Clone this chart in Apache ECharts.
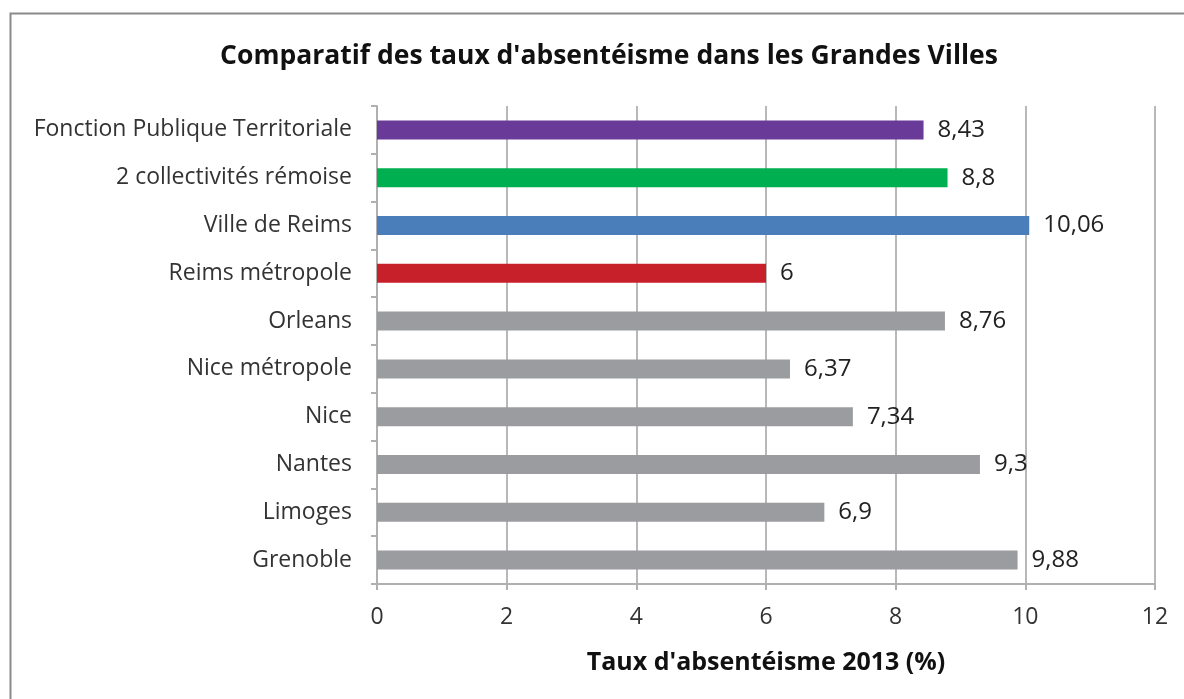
<!DOCTYPE html>
<html><head><meta charset="utf-8">
<script src="https://cdn.jsdelivr.net/npm/echarts@6/dist/echarts.min.js"></script>
<style>html,body{margin:0;padding:0;background:#fff}#c{width:1184px;height:699px}</style>
</head><body><div id="c"></div>
<script>
const categories = ["Grenoble","Limoges","Nantes","Nice","Nice métropole","Orleans","Reims métropole","Ville de Reims","2 collectivités rémoise","Fonction Publique Territoriale"];
const values = [9.88, 6.9, 9.3, 7.34, 6.37, 8.76, 6, 10.06, 8.8, 8.43];
const barColors = ["#9a9ca0","#9a9ca0","#9a9ca0","#9a9ca0","#9a9ca0","#9a9ca0","#c8202a","#4a7ebb","#00b050","#6a3a98"];
const titleText = "Comparatif des taux d'absentéisme dans les Grandes Villes";
const xTitle = "Taux d'absentéisme 2013 (%)";
const font = "'Open Sans', 'Noto Sans', sans-serif";
const chart = echarts.init(document.getElementById('c'));
chart.setOption({
  animation:false,
  title:{text:titleText,left:604,top:38,textAlign:'center',textStyle:{fontFamily:font,fontSize:26.5,fontWeight:'bold',color:'#111'}},
  graphic:[{type:'rect',shape:{x:10.5,y:13.5,width:1200,height:720},style:{fill:'none',stroke:'#8a8a8a',lineWidth:2},z:-1}],
  grid:{left:377,top:106,width:778,height:478},
  xAxis:{type:'value',min:0,max:12,interval:2,
    name:xTitle,nameLocation:'middle',nameGap:66,
    nameTextStyle:{fontFamily:font,fontSize:25,fontWeight:'bold',color:'#111'},
    axisLine:{show:true,lineStyle:{color:'#b0b0b0',width:2}},
    axisTick:{show:true,length:6,lineStyle:{color:'#b0b0b0',width:2}},
    axisLabel:{fontFamily:font,fontSize:23,color:'#333',margin:22},
    splitLine:{show:true,lineStyle:{color:'#b8b8b8',width:2}}},
  yAxis:{type:'category',data:categories,
    axisLine:{show:true,lineStyle:{color:'#b0b0b0',width:2}},
    axisTick:{show:true,length:6,lineStyle:{color:'#b0b0b0',width:2}},
    axisLabel:{fontFamily:font,fontSize:23,color:'#333',margin:25}},
  series:[{type:'bar',barWidth:19,
    data:values.map((v,i)=>({value:v,itemStyle:{color:barColors[i]}})),
    label:{show:true,position:'right',distance:14,fontFamily:font,fontSize:24,color:'#222',
      formatter:p=>String(p.value).replace('.',',')}}]
});
</script></body></html>
